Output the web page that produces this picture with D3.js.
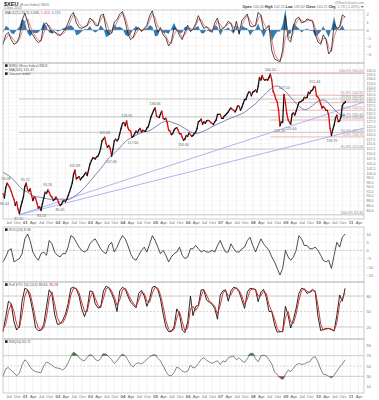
<!DOCTYPE html>
<html>
<head>
<meta charset="utf-8">
<script src="https://d3js.org/d3.v7.min.js"></script>
<style>
  body { margin: 0; background: #fff; }
  svg { display: block; font-family: "Liberation Sans", Arial, sans-serif; }
</style>
</head>
<body>
<div id="chart"></div>
<script>
// ---- data ----
// $XEU closes, twice a month (1st and 16th) from May 2000, last value is 5-Nov-2010
let priceClose = [
  91.0, 89.0, 93.5, 95.5, 94.5, 93.5, 92.0, 90.0, 88.5, 86.0, 87.5, 84.5, 82.8, 85.5, 87.5, 89.5,
  94.0, 95.5, 92.5, 92.0, 93.0, 90.5, 88.0, 89.5, 89.0, 87.0, 85.0, 85.5, 84.0, 86.5, 89.0, 91.5, 91.0, 92.5, 91.5, 90.0, 89.5, 88.0, 88.5, 89.5,
  88.5, 87.0, 86.0, 86.5, 87.5, 88.0, 87.5, 88.5, 90.0, 91.5, 93.5, 95.5, 99.5, 101.5, 97.5, 98.0, 98.5, 97.0, 98.0, 98.5, 99.5, 100.5, 99.0, 101.5,
  104.5, 106.0, 107.5, 107.5, 107.0, 108.0, 108.5, 110.0, 112.5, 116.5, 117.5, 118.5, 115.0, 113.0, 114.0, 112.5, 108.5, 112.0, 116.5, 117.5, 116.5, 117.5, 120.5, 123.5,
  126.5, 127.0, 125.0, 128.0, 124.0, 122.5, 122.0, 118.5, 119.0, 120.5, 122.0, 121.0, 122.5, 123.5, 121.5, 122.5, 122.0, 122.0, 123.8, 124.5, 127.5, 130.5, 132.5, 134.5,
  136.0, 131.0, 130.5, 130.0, 132.0, 134.0, 129.5, 129.0, 129.5, 127.0, 122.5, 122.0, 120.0, 120.5, 122.5, 123.5, 124.0, 122.5, 120.5, 120.5, 118.5, 116.8, 117.5, 119.5,
  119.0, 121.0, 120.0, 119.0, 119.5, 120.5, 121.5, 123.5, 127.5, 128.0, 129.0, 126.0, 127.5, 126.5, 128.0, 128.3, 128.0, 127.0, 126.5, 125.8, 127.5, 128.5, 132.0, 132.0,
  132.0, 129.5, 129.5, 131.0, 131.5, 132.5, 133.5, 135.0, 136.0, 135.0, 134.5, 133.5, 135.0, 137.5, 137.0, 134.5, 136.5, 139.0, 141.5, 141.5, 144.5, 146.5, 146.5, 144.0,
  146.5, 147.0, 148.0, 146.5, 150.5, 157.0, 155.0, 158.5, 155.5, 155.0, 155.5, 155.0, 157.0, 159.5, 155.0, 147.0, 145.0, 141.5, 140.0, 135.0, 125.0, 127.5, 127.0, 145.0,
  139.5, 132.5, 128.5, 127.0, 126.0, 132.0, 133.0, 131.5, 134.0, 136.5, 139.5, 140.0, 140.5, 141.0, 143.0, 142.5, 143.0, 146.5, 145.5, 147.5, 148.0, 150.5, 150.0, 144.0,
  143.0, 141.5, 138.5, 136.0, 137.0, 136.0, 134.5, 134.5, 131.5, 123.5, 119.5, 123.0, 125.5, 129.5, 131.5, 127.5, 128.0, 130.5, 137.5, 139.0, 139.5,
  140.3
];

// monthly values, May 2000 .. Nov 2010
let ma200 = [
  100.5, 99.8, 99.0, 98.0, 96.8, 95.5, 94.0, 93.0, 92.2, 91.5, 90.8, 90.0,
  89.6, 89.5, 89.3, 89.0, 88.8, 88.6, 88.6, 88.5, 88.5, 88.6, 88.6, 88.5,
  88.4, 88.8, 89.5, 90.3, 91.2, 92.3, 93.5, 94.8, 96.3, 97.8, 99.3, 100.7,
  102.2, 104.0, 105.8, 107.5, 108.8, 110.0, 111.3, 112.8, 114.5, 116.0, 117.2, 118.0,
  118.8, 119.6, 120.5, 121.1, 121.5, 121.8, 122.3, 123.2, 124.3, 125.4, 126.5, 127.3,
  127.8, 127.8, 127.2, 126.6, 126.1, 125.4, 124.5, 123.5, 122.5, 121.6, 121.0, 120.6,
  120.8, 121.4, 122.0, 122.8, 123.6, 124.5, 125.3, 126.0, 126.8, 127.5, 128.3, 129.0,
  129.7, 130.3, 131.0, 131.7, 132.4, 133.3, 134.6, 136.0, 137.3, 138.8, 140.4, 142.3,
  144.2, 146.0, 147.8, 149.4, 150.5, 150.8, 149.8, 148.5, 147.0, 145.0, 143.0, 141.0,
  139.0, 137.2, 135.8, 135.0, 135.3, 136.2, 137.5, 139.0, 140.3, 141.0, 141.2, 140.5,
  139.0, 137.0, 135.2, 133.5, 132.0, 131.3, 131.5
];

let macd = [
  -1.8, -0.6, -0.3, -1.2, -1.8, -1.6, -0.8, 1.2, 2.1, 1.0, -0.3, -0.6,
  -1.2, -1.6, -1.3, 0.6, 0.9, 0.3, -0.4, -0.2, -0.6, -0.7, -0.3, 0.1,
  0.9, 1.8, 2.2, 0.9, 0.3, 0.2, 0.4, 0.6, 1.5, 1.2, 0.6, 0.5,
  1.8, 2.0, 0.2, -0.6, -0.4, 1.0, 1.3, 2.0, 2.3, 1.0, -0.4, -1.2,
  -0.9, 0.1, 0.3, -0.2, 0.2, 0.6, 1.8, 2.4, 0.8, -0.3, 0.3, -0.6,
  -1.0, -2.0, -1.5, 0.3, 0.1, -0.7, -1.2, -0.2, 0.6, -0.1, 0.1, 0.8,
  1.8, 0.9, 0.2, 0.4, 0.0, -0.3, 0.9, 1.5, 0.0, 0.2, 0.5, 1.1,
  0.8, -0.2, 1.1, -0.5, 1.2, 1.6, 2.0, 0.5, 0.4, 0.6, 2.2, 1.8,
  0.0, 0.2, 0.6, -2.6, -3.6, -3.8, -4.0, -2.5, 1.8, -1.2, -1.5, 0.5,
  1.4, 1.6, 0.9, 1.0, 1.4, 1.2, 1.1, -0.5, -1.5, -1.8, -0.6, -1.2,
  -3.0, -2.5, 0.8, 0.2, 0.4, 1.9, 1.6
];
let macdSignal = [
  -1.5, -1.1, -0.6, -0.8, -1.3, -1.6, -1.2, -0.2, 1.0, 1.4, 0.5, -0.3,
  -0.8, -1.3, -1.4, -0.4, 0.5, 0.6, 0.0, -0.3, -0.4, -0.6, -0.5, -0.2,
  0.4, 1.2, 1.9, 1.6, 0.8, 0.4, 0.3, 0.5, 1.0, 1.3, 0.9, 0.6,
  1.2, 1.8, 1.1, 0.1, -0.4, 0.3, 1.0, 1.6, 2.1, 1.6, 0.4, -0.7,
  -1.0, -0.4, 0.1, 0.0, 0.0, 0.4, 1.2, 2.0, 1.6, 0.4, 0.1, -0.2,
  -0.7, -1.5, -1.7, -0.6, 0.0, -0.3, -0.9, -0.6, 0.2, 0.2, 0.0, 0.5,
  1.3, 1.3, 0.6, 0.4, 0.2, -0.1, 0.3, 1.1, 0.7, 0.2, 0.4, 0.8,
  0.9, 0.3, 0.5, 0.2, 0.6, 1.3, 1.8, 1.2, 0.6, 0.5, 1.4, 1.9,
  0.9, 0.3, 0.4, -1.2, -2.9, -3.6, -3.8, -3.2, -0.8, -0.6, -1.1, -0.3,
  0.9, 1.4, 1.2, 1.0, 1.2, 1.3, 1.2, 0.3, -0.9, -1.6, -1.1, -1.0,
  -2.1, -2.7, -0.9, 0.1, 0.3, 1.3, 1.7
];
let macdHist = [
  -0.3, 0.5, 0.3, -0.4, -0.5, 0.0, 0.4, 1.4, 1.1, -0.4, -0.8, -0.3,
  -0.4, -0.3, 0.1, 1.0, 0.4, -0.3, -0.4, 0.1, -0.2, -0.1, 0.2, 0.3,
  0.5, 0.6, 0.3, -0.7, -0.5, -0.2, 0.1, 0.1, 0.5, -0.1, -0.3, -0.1,
  0.6, 0.2, -0.9, -0.7, 0.0, 0.7, 0.3, 0.4, 0.2, -0.6, -0.8, -0.5,
  0.1, 0.5, 0.2, -0.2, 0.2, 0.2, 0.6, 0.4, -0.8, -0.7, 0.2, -0.4,
  -0.3, -0.5, 0.2, 0.9, 0.1, -0.4, -0.3, 0.4, 0.4, -0.3, 0.1, 0.3,
  0.5, -0.4, -0.4, 0.0, -0.2, -0.2, 0.6, 0.4, -0.7, 0.0, 0.1, 0.3,
  -0.1, -0.5, 0.6, -0.7, 0.6, 0.3, 0.2, -0.7, -0.2, 0.1, 0.8, -0.1,
  -0.9, -0.1, 0.2, -1.4, -0.7, -0.2, -0.2, 0.7, 2.6, -0.6, -0.4, 0.8,
  0.5, 0.2, -0.3, 0.0, 0.2, -0.1, -0.1, -0.8, -0.6, -0.2, 0.5, -0.2,
  -0.9, 0.2, 1.7, 0.1, 0.1, 0.6, -0.1
];

let roc = [
  -7, -4, 0, 1, -7, -6, -5, -2, 7, 10, 6, -1,
  -4, -6, -2, -1, -3, 6, 4, -1, -3, -4, -2, -2,
  2, 9, 8, 5, 2, 0, -1, 0, 4, 6, 7, 4,
  1, -1, -2, 3, 5, -1, 2, 6, 9, 7, 3, -2,
  -5, -6, -3, 0, 2, -1, 4, 9, 6, 2, -2, 0,
  -3, -7, -4, -2, -1, 2, -3, -5, -4, 1, 1, 3,
  1, -1, 0, -1, -1, 0, -1, 3, 6, 2, -1, -1,
  4, 1, -1, -1, 1, 2, 6, 8, 3, -1, 3, 7,
  4, 2, 0, -4, -7, -11, -15, -11, 0, -4, -6, -4,
  0, 9, 7, 3, 3, 1, 1, 2, 0, -3, -6, -7,
  -6, -11, -3, 5, 2, 8, 10
];

let stoK = [
  11, 40, 70, 65, 30, 14, 22, 70, 95, 92, 76, 50,
  18, 13, 14, 25, 60, 92, 84, 45, 25, 26, 33, 45,
  65, 95, 97, 93, 80, 55, 40, 55, 90, 88, 65, 57,
  58, 90, 99, 96, 85, 72, 50, 90, 97, 93, 80, 68,
  63, 57, 85, 91, 80, 60, 75, 97, 99, 92, 75, 45,
  20, 11, 11, 20, 55, 45, 14, 9, 30, 80, 42, 60,
  62, 92, 92, 72, 68, 64, 56, 35, 82, 90, 92, 70,
  90, 97, 95, 88, 72, 56, 88, 95, 94, 92, 69, 88,
  93, 77, 50, 50, 24, 10, 11, 11, 60, 42, 18, 35,
  56, 85, 95, 93, 85, 88, 93, 88, 40, 13, 15, 17,
  17, 15, 12, 43, 82, 70, 95
];
let stoD = [
  15, 25, 50, 65, 50, 25, 18, 45, 80, 92, 85, 62,
  35, 18, 14, 18, 40, 75, 88, 65, 38, 27, 28, 38,
  55, 82, 95, 95, 86, 68, 50, 50, 75, 88, 76, 62,
  58, 75, 94, 97, 90, 78, 62, 72, 92, 95, 86, 74,
  66, 60, 72, 87, 85, 70, 68, 86, 97, 95, 83, 60,
  33, 16, 12, 15, 38, 50, 30, 12, 18, 55, 60, 52,
  60, 80, 92, 82, 70, 66, 60, 45, 62, 86, 91, 80,
  82, 93, 96, 91, 80, 64, 74, 91, 94, 93, 80, 80,
  90, 85, 63, 50, 36, 17, 11, 11, 38, 50, 30, 27,
  45, 72, 90, 94, 89, 87, 90, 90, 62, 25, 14, 16,
  17, 16, 13, 28, 65, 76, 86
];

let rsi = [
  30, 45, 47, 41, 37, 31, 36, 52, 62, 57, 48, 42,
  39, 38, 37, 50, 58, 55, 52, 47, 46, 45, 42, 47,
  56, 68, 77, 73, 66, 62, 60, 67, 72, 70, 63, 60,
  64, 74, 73, 68, 62, 55, 60, 68, 73, 70, 62, 52,
  48, 55, 56, 54, 58, 63, 68, 71, 72, 65, 60, 50,
  40, 32, 31, 37, 48, 45, 40, 38, 40, 52, 46, 48,
  55, 63, 66, 61, 58, 55, 58, 60, 53, 60, 58, 66,
  68, 69, 62, 66, 60, 57, 64, 74, 75, 64, 58, 70,
  71, 69, 62, 54, 38, 34, 27, 24, 34, 42, 39, 46,
  52, 55, 53, 54, 57, 58, 66, 68, 58, 44, 34, 33,
  30, 27, 32, 40, 48, 54, 62
];

// labelled highs and lows
let annDates  = ['2000-05-19', '2000-06-05', '2000-10-26', '2001-01-05', '2001-07-06', '2001-09-13', '2002-01-31', '2002-07-15',
                 '2003-06-16', '2003-08-29', '2004-02-18', '2004-04-26', '2004-12-30', '2005-11-15', '2008-07-15', '2008-10-27',
                 '2008-12-18', '2009-03-04', '2009-11-25', '2010-06-07'];
let annPrices = [88.44, 96.08, 82.30, 95.72, 83.53, 93.18, 85.65, 101.89, 119.33, 107.66, 128.95, 117.60, 136.66, 116.40,
                 160.20, 124.28, 147.10, 125.60, 151.44, 118.79];
let annKind   = ['low', 'high', 'low', 'high', 'low', 'high', 'low', 'high', 'high', 'low', 'high', 'low', 'high', 'low',
                 'high', 'low', 'high', 'low', 'high', 'low'];

// trend lines from the 2000 low
let trendFrom   = ['2000-10-26', 82.30];
let trendToDate = '2011-06-01';
let trendToPrice = [139.8, 123.7];

// fibonacci levels
let fibPinkLevels = [160.20, 144.35, 139.45, 134.55, 128.49, 118.70];
let fibPinkLabels = ['100.0% 160.20', '61.8% 144.35', '50.0% 139.45', '38.2% 134.55', '23.6% 128.49', '0.0% 118.70'];
let fibGreyLevels = [160.20, 141.82, 130.44, 121.25, 112.06, 82.30];
let fibGreyLabels = ['', '23.6% 141.82', '38.2% 130.44', '50.0% 121.25', '61.8% 112.06', '100.0% 82.30'];

let priceTicks = [84, 86, 88, 90, 92, 94, 96, 98, 100, 102.5, 105, 107.5, 110, 112.5, 115, 117.5, 120, 122.5, 125, 127.5,
                  130, 132.5, 135, 137.5, 140, 142.5, 145, 147.5, 150, 153, 156, 159, 162];
let macdTicks = [2, 1, 0, -1, -2, -3];
let rocTicks = [10, 5, 0, -5, -10, -15];
let stoTicks = [80, 50, 20];
let rsiTicks = [90, 70, 50, 30, 10];

// ---- layout ----
let width = 379, height = 400;
let left = 3, right = 364;
let parse = d3.timeParse('%Y-%m-%d');

let priceDates = priceClose.map(function(d, i) {
    if (i === priceClose.length - 1) return new Date(2010, 10, 5);
    return new Date(2000, 4 + Math.floor(i / 2), i % 2 ? 16 : 1);
});
let monthDates = macd.map(function(d, i) { return new Date(2000, 4 + i, 1); });

let svg = d3.select('#chart')
    .append('svg')
    .attr('width', width)
    .attr('height', height);

let xScale = d3.scaleTime()
    .domain([new Date(2000, 4, 1), new Date(2011, 5, 1)])
    .range([left, right]);

let yMacd  = d3.scaleLinear().domain([-4, 2]).range([62, 14]);
let yPrice = d3.scaleLog().domain([80.7, 168]).range([219, 63]);
let yRoc   = d3.scaleLinear().domain([-15, 10]).range([275, 234]);
let ySto   = d3.scaleLinear().domain([0, 100]).range([337.3, 285.7]);
let yRsi   = d3.scaleLinear().domain([10, 90]).range([386.6, 345.4]);

let panels = [
    { top: 10,  bottom: 63 },
    { top: 63,  bottom: 219 },
    { top: 227, bottom: 282 },
    { top: 282, bottom: 339 },
    { top: 339, bottom: 393 }
];

let quarterTicks = d3.timeMonth.every(3).range(new Date(2000, 6, 1), new Date(2011, 5, 1));

// vertical grid in every panel
panels.forEach(function(p) {
    svg.append('g')
        .selectAll('line')
        .data(quarterTicks)
        .enter()
        .append('line')
        .attr('x1', d => xScale(d))
        .attr('x2', d => xScale(d))
        .attr('y1', p.top)
        .attr('y2', p.bottom)
        .attr('stroke', '#e4e4e4')
        .attr('stroke-width', 0.5);
});

function hGrid(ticks, y, color) {
    svg.append('g')
        .selectAll('line')
        .data(ticks)
        .enter()
        .append('line')
        .attr('x1', left)
        .attr('x2', right)
        .attr('y1', d => y(d))
        .attr('y2', d => y(d))
        .attr('stroke', color)
        .attr('stroke-width', 0.5);
}
hGrid(macdTicks, yMacd, '#ececec');
hGrid(priceTicks, yPrice, '#f0f0f0');
hGrid(rocTicks, yRoc, '#ececec');

function rightAxis(y, ticks, fmt, size) {
    let g = svg.append('g')
        .attr('transform', 'translate(' + right + ',0)')
        .call(d3.axisRight(y).tickValues(ticks).tickFormat(fmt).tickSize(0).tickPadding(2.5));
    g.select('.domain').remove();
    g.selectAll('text')
        .attr('font-size', size || 4)
        .attr('font-family', '"Liberation Sans", Arial, sans-serif')
        .attr('fill', '#777');
}
rightAxis(yMacd, macdTicks, d3.format('d'));
rightAxis(yPrice, priceTicks, d3.format('.1f'), 3.6);
rightAxis(yRoc, rocTicks, d3.format('d'));
rightAxis(ySto, stoTicks, d3.format('d'));
rightAxis(yRsi, rsiTicks, d3.format('d'));

function bottomAxis(y0) {
    let g = svg.append('g')
        .attr('transform', 'translate(0,' + y0 + ')')
        .call(d3.axisBottom(xScale)
            .tickValues(quarterTicks)
            .tickFormat(d => d.getMonth() === 0 ? d3.timeFormat('%y')(d) : d3.timeFormat('%b')(d))
            .tickSize(0)
            .tickPadding(1.5));
    g.select('.domain').remove();
    g.selectAll('text')
        .attr('font-size', 4.3)
        .attr('font-family', '"Liberation Sans", Arial, sans-serif')
        .attr('fill', '#666')
        .attr('font-weight', d => d.getMonth() === 0 ? 'bold' : 'normal');
}
bottomAxis(219);
bottomAxis(393);

// ---- top panel: MACD ----
svg.append('path')
    .datum(macdHist)
    .attr('d', d3.area()
        .x((d, i) => xScale(monthDates[i]))
        .y0(yMacd(0))
        .y1(d => yMacd(d)))
    .attr('fill', '#2f7bb8');

svg.append('line')
    .attr('x1', left).attr('x2', right)
    .attr('y1', yMacd(0)).attr('y2', yMacd(0))
    .attr('stroke', '#999').attr('stroke-width', 0.5);

svg.append('path')
    .datum(macdSignal)
    .attr('d', d3.line().x((d, i) => xScale(monthDates[i])).y(d => yMacd(d)))
    .attr('fill', 'none')
    .attr('stroke', '#e8605f')
    .attr('stroke-width', 0.8);

svg.append('path')
    .datum(macd)
    .attr('d', d3.line().x((d, i) => xScale(monthDates[i])).y(d => yMacd(d)))
    .attr('fill', 'none')
    .attr('stroke', '#222')
    .attr('stroke-width', 0.8);

// ---- main panel ----
// fibonacci lines
let greyStart = xScale(parse('2000-10-26'));
svg.append('g')
    .selectAll('line')
    .data(fibGreyLevels)
    .enter()
    .append('line')
    .attr('x1', greyStart)
    .attr('x2', right)
    .attr('y1', d => yPrice(d))
    .attr('y2', d => yPrice(d))
    .attr('stroke', '#b8b8b8')
    .attr('stroke-width', 0.8);

let pinkStart = xScale(parse('2008-07-15'));
svg.append('g')
    .selectAll('line')
    .data(fibPinkLevels)
    .enter()
    .append('line')
    .attr('x1', pinkStart)
    .attr('x2', right)
    .attr('y1', d => yPrice(d))
    .attr('y2', d => yPrice(d))
    .attr('stroke', '#f2a3a3')
    .attr('stroke-width', 0.8);

svg.append('g')
    .selectAll('text')
    .data(fibGreyLevels)
    .enter()
    .append('text')
    .text((d, i) => fibGreyLabels[i])
    .attr('x', right - 1)
    .attr('y', d => yPrice(d) - 0.8)
    .attr('text-anchor', 'end')
    .attr('font-size', 3.6)
    .attr('fill', '#888');

svg.append('g')
    .selectAll('text')
    .data(fibPinkLevels)
    .enter()
    .append('text')
    .text((d, i) => fibPinkLabels[i])
    .attr('x', right - 1)
    .attr('y', d => yPrice(d) - 0.8)
    .attr('text-anchor', 'end')
    .attr('font-size', 3.6)
    .attr('fill', '#999');

// trend lines
trendToPrice.forEach(function(p) {
    svg.append('line')
        .attr('x1', xScale(parse(trendFrom[0])))
        .attr('y1', yPrice(trendFrom[1]))
        .attr('x2', xScale(parse(trendToDate)))
        .attr('y2', yPrice(p))
        .attr('stroke', '#9da2ee')
        .attr('stroke-width', 0.8);
});

// moving average
svg.append('path')
    .datum(ma200)
    .attr('d', d3.line().curve(d3.curveMonotoneX).x((d, i) => xScale(monthDates[i])).y(d => yPrice(d)))
    .attr('fill', 'none')
    .attr('stroke', '#5a64a8')
    .attr('stroke-width', 0.8);

// price bars, black when up, red when down
svg.append('g')
    .selectAll('line')
    .data(priceClose.slice(1))
    .enter()
    .append('line')
    .attr('x1', (d, i) => xScale(priceDates[i]))
    .attr('y1', (d, i) => yPrice(priceClose[i]))
    .attr('x2', (d, i) => xScale(priceDates[i + 1]))
    .attr('y2', d => yPrice(d))
    .attr('stroke', (d, i) => d >= priceClose[i] ? '#111' : '#d01010')
    .attr('stroke-width', 1.3)
    .attr('stroke-linecap', 'round');

// high / low labels
svg.append('g')
    .selectAll('text')
    .data(annPrices)
    .enter()
    .append('text')
    .text(d => d.toFixed(2))
    .attr('x', (d, i) => xScale(parse(annDates[i])))
    .attr('y', (d, i) => annKind[i] === 'high' ? yPrice(d) - 2 : yPrice(d) + 5)
    .attr('text-anchor', 'middle')
    .attr('font-size', 3.6)
    .attr('fill', '#666');

// ---- ROC panel ----
svg.append('line')
    .attr('x1', left).attr('x2', right)
    .attr('y1', yRoc(0)).attr('y2', yRoc(0))
    .attr('stroke', '#aaa').attr('stroke-width', 0.6)
    .attr('stroke-dasharray', '2,1.5');

svg.append('path')
    .datum(roc)
    .attr('d', d3.line().x((d, i) => xScale(monthDates[i])).y(d => yRoc(d)))
    .attr('fill', 'none')
    .attr('stroke', '#222')
    .attr('stroke-width', 0.8);

// ---- STO panel ----
[80, 20].forEach(function(v) {
    svg.append('line')
        .attr('x1', left).attr('x2', right)
        .attr('y1', ySto(v)).attr('y2', ySto(v))
        .attr('stroke', '#aaa').attr('stroke-width', 0.6);
});
svg.append('line')
    .attr('x1', left).attr('x2', right)
    .attr('y1', ySto(50)).attr('y2', ySto(50))
    .attr('stroke', '#bbb').attr('stroke-width', 0.6)
    .attr('stroke-dasharray', '2,1.5');

svg.append('path')
    .datum(stoK)
    .attr('d', d3.line().x((d, i) => xScale(monthDates[i])).y(d => ySto(d)))
    .attr('fill', 'none')
    .attr('stroke', '#111')
    .attr('stroke-width', 0.9);

svg.append('path')
    .datum(stoD)
    .attr('d', d3.line().x((d, i) => xScale(monthDates[i])).y(d => ySto(d)))
    .attr('fill', 'none')
    .attr('stroke', '#d42020')
    .attr('stroke-width', 0.9);

// ---- RSI panel ----
[70, 30].forEach(function(v) {
    svg.append('line')
        .attr('x1', left).attr('x2', right)
        .attr('y1', yRsi(v)).attr('y2', yRsi(v))
        .attr('stroke', '#aaa').attr('stroke-width', 0.6);
});
svg.append('line')
    .attr('x1', left).attr('x2', right)
    .attr('y1', yRsi(50)).attr('y2', yRsi(50))
    .attr('stroke', '#bbb').attr('stroke-width', 0.6)
    .attr('stroke-dasharray', '2,1.5');

svg.append('path')
    .datum(rsi)
    .attr('d', d3.area()
        .x((d, i) => xScale(monthDates[i]))
        .y0(yRsi(70))
        .y1(d => yRsi(Math.max(d, 70))))
    .attr('fill', '#3f7f3f');

svg.append('path')
    .datum(rsi)
    .attr('d', d3.area()
        .x((d, i) => xScale(monthDates[i]))
        .y0(yRsi(30))
        .y1(d => yRsi(Math.min(d, 30))))
    .attr('fill', '#9a4444');

svg.append('path')
    .datum(rsi)
    .attr('d', d3.line().x((d, i) => xScale(monthDates[i])).y(d => yRsi(d)))
    .attr('fill', 'none')
    .attr('stroke', '#666')
    .attr('stroke-width', 0.8);

// panel borders
svg.append('g')
    .selectAll('rect')
    .data(panels)
    .enter()
    .append('rect')
    .attr('x', left)
    .attr('y', d => d.top)
    .attr('width', right - left)
    .attr('height', d => d.bottom - d.top)
    .attr('fill', 'none')
    .attr('stroke', '#aaa')
    .attr('stroke-width', 0.6);

// ---- texts ----
function txt(x, y, s, size, color, weight, anchor) {
    return svg.append('text')
        .attr('x', x).attr('y', y)
        .attr('font-size', size)
        .attr('fill', color)
        .attr('font-weight', weight || 'normal')
        .attr('text-anchor', anchor || 'start')
        .text(s);
}

let title = svg.append('text').attr('x', 4).attr('y', 5.5).attr('font-size', 5.5);
title.append('tspan').attr('font-weight', 'bold').attr('fill', '#222').text('$XEU ');
title.append('tspan').attr('font-size', 3.6).attr('fill', '#777').text('(Euro Index) INDX');
txt(4, 9.2, '5-Nov-2010', 3.4, '#777');

txt(right, 3.5, '@StockCharts.com', 3.4, '#888', 'normal', 'end');
let quote = svg.append('text').attr('x', right).attr('y', 8).attr('font-size', 3.6).attr('text-anchor', 'end').attr('fill', '#777');
quote.append('tspan').attr('font-weight', 'bold').attr('fill', '#333').text('Open ');
quote.append('tspan').text('140.40 ');
quote.append('tspan').attr('font-weight', 'bold').attr('fill', '#333').text('High ');
quote.append('tspan').text('142.11 ');
quote.append('tspan').attr('font-weight', 'bold').attr('fill', '#333').text('Low ');
quote.append('tspan').text('139.82 ');
quote.append('tspan').attr('font-weight', 'bold').attr('fill', '#333').text('Close ');
quote.append('tspan').text('140.21 ');
quote.append('tspan').attr('font-weight', 'bold').attr('fill', '#333').text('Chg ');
quote.append('tspan').text('-1.73 (-1.22%)');
quote.append('tspan').attr('fill', '#c00').text(' \u25BC');

let macdLeg = svg.append('text').attr('x', 5).attr('y', 13.8).attr('font-size', 3.5).attr('fill', '#555');
macdLeg.append('tspan').text('MACD(12,26,9) 1.630, ');
macdLeg.append('tspan').attr('fill', '#e8605f').text('1.456, ');
macdLeg.append('tspan').attr('fill', '#2f7bb8').text('0.174');

svg.append('rect').attr('x', 5).attr('y', 64.3).attr('width', 2.6).attr('height', 2.6).attr('fill', '#222');
txt(9, 66.9, '$XEU (Euro Index) INDX', 3.5, '#555');
svg.append('line').attr('x1', 5).attr('x2', 7.6).attr('y1', 69.6).attr('y2', 69.6).attr('stroke', '#5a64a8').attr('stroke-width', 0.8);
txt(9, 70.9, 'MA(200) 131.47', 3.5, '#555');
svg.append('rect').attr('x', 5).attr('y', 72.3).attr('width', 2.6).attr('height', 2.6).attr('fill', '#222');
txt(9, 74.9, 'Volume undef', 3.5, '#555');

svg.append('rect').attr('x', 5).attr('y', 228.3).attr('width', 2.6).attr('height', 2.6).attr('fill', '#222');
txt(9, 230.9, 'ROC(20) 8.36', 3.5, '#555');

svg.append('rect').attr('x', 5).attr('y', 283.3).attr('width', 2.6).attr('height', 2.6).attr('fill', '#222');
let stoLeg = svg.append('text').attr('x', 9).attr('y', 285.9).attr('font-size', 3.5).attr('fill', '#555');
stoLeg.append('tspan').text('Full STO (50,10,3) 86.84, ');
stoLeg.append('tspan').attr('fill', '#d42020').text('90.28');

svg.append('rect').attr('x', 5).attr('y', 340.3).attr('width', 2.6).attr('height', 2.6).attr('fill', '#222');
txt(9, 342.9, 'RSI(14) 63.71', 3.5, '#555');
</script>
</body>
</html>
